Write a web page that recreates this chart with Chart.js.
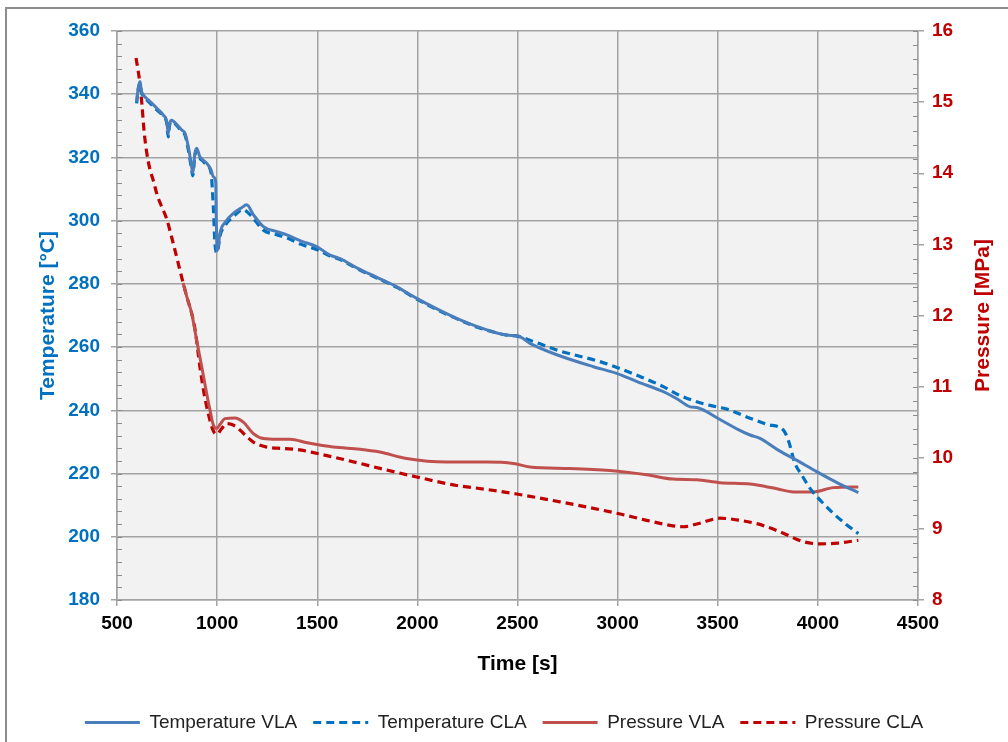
<!DOCTYPE html>
<html>
<head>
<meta charset="utf-8">
<script src="https://cdn.jsdelivr.net/npm/chart.js@4"></script>
<style>
  html, body { margin: 0; padding: 0; background: #fff; }
  #wrap { width: 1008px; height: 742px; position: relative; }
</style>
</head>
<body>
<div id="wrap"><canvas id="myChart" width="1008" height="742"></canvas></div>
<script>
// Temperature VLA (solid)
var tempVlaTime = [598, 606, 615, 622, 631, 660, 700, 731, 748, 756, 762, 773, 800, 823, 840, 856, 873, 878, 889, 898, 914, 930, 948, 970, 981, 993, 996, 1000, 1006, 1014, 1040, 1081, 1120, 1148, 1180, 1231, 1300, 1348, 1420, 1497, 1564, 1614, 1700, 1800, 1900, 1997, 2100, 2196, 2300, 2446, 2504, 2562, 2700, 2879, 2995, 3100, 3228, 3300, 3362, 3400, 3500, 3600, 3661, 3711, 3800, 3900, 3994, 4100, 4202];
var tempVla = [337.6, 342, 344, 341, 339.8, 338, 335.5, 333.4, 331.5, 327.6, 330.5, 331.8, 330.3, 328.7, 327.6, 323.4, 317, 315.2, 321.3, 322.9, 320.2, 319.2, 318.2, 316, 313.9, 312.3, 300, 290.5, 292, 296, 299.5, 302.3, 304, 305, 302, 298.1, 296.5, 295.5, 293.5, 291.8, 289.1, 288, 285, 282, 279, 275.4, 272, 269.1, 266.5, 263.8, 263.5, 261.2, 257.5, 253.8, 251.7, 249, 245.9, 243.5, 241.1, 240.8, 237.5, 234, 232.2, 231.1, 227.5, 224, 220.6, 217, 214];

// Temperature CLA (dashed)
var tempClaTime = [598, 606, 615, 622, 631, 660, 700, 731, 748, 756, 762, 773, 800, 823, 840, 856, 873, 878, 889, 898, 914, 930, 948, 970, 981, 990, 1000, 1006, 1014, 1040, 1081, 1130, 1170, 1231, 1300, 1350, 1420, 1500, 1564, 1614, 1700, 1800, 1900, 1997, 2100, 2196, 2300, 2446, 2504, 2596, 2700, 2912, 3000, 3100, 3228, 3300, 3411, 3494, 3550, 3661, 3750, 3827, 3852, 3886, 3920, 3961, 4020, 4077, 4140, 4202];
var tempCla = [337.1, 341.5, 343.5, 340.5, 339.5, 337.5, 335, 333, 331, 326.5, 330, 331.3, 330, 328.2, 327, 322.5, 316, 314.2, 320.5, 322.2, 319.8, 318.8, 317.6, 315, 304.4, 292, 289.8, 291.5, 295, 298.5, 301.3, 303.5, 301.5, 297, 295.5, 294.5, 292.5, 290.8, 288.8, 287.7, 284.8, 281.8, 278.8, 275.2, 271.8, 269, 266.3, 263.8, 263.4, 261.4, 259, 255.4, 253.5, 251, 247.5, 245, 242.4, 241.1, 240.3, 237.5, 235.5, 233.8, 230.6, 223.2, 219.5, 215.3, 211, 207.4, 204, 201];

// Pressure VLA (solid)
var presVlaTime = [830, 850, 873, 898, 925, 948, 968, 981, 998, 1015, 1039, 1089, 1131, 1181, 1231, 1300, 1364, 1450, 1580, 1713, 1813, 1946, 2146, 2346, 2479, 2562, 2762, 2962, 3145, 3278, 3395, 3511, 3661, 3711, 3800, 3877, 3977, 4077, 4202];
var presVla = [12.46, 12.25, 12.03, 11.65, 11.25, 10.9, 10.62, 10.46, 10.41, 10.47, 10.55, 10.56, 10.5, 10.34, 10.27, 10.26, 10.26, 10.21, 10.15, 10.12, 10.08, 9.99, 9.94, 9.94, 9.92, 9.87, 9.85, 9.82, 9.76, 9.7, 9.69, 9.65, 9.63, 9.61, 9.56, 9.52, 9.52, 9.58, 9.59];

// Pressure CLA (dashed)
var presClaTime = [595, 605, 615, 625, 635, 648, 665, 681, 700, 720, 748, 773, 800, 831, 850, 873, 890, 914, 935, 956, 975, 989, 1000, 1020, 1048, 1070, 1098, 1140, 1181, 1248, 1330, 1414, 1500, 1580, 1713, 1813, 1996, 2196, 2279, 2496, 2712, 2995, 3145, 3261, 3328, 3411, 3511, 3611, 3700, 3744, 3827, 3927, 4011, 4100, 4202];
var presCla = [15.62, 15.45, 15.25, 14.95, 14.6, 14.3, 14.05, 13.9, 13.7, 13.55, 13.36, 13.1, 12.8, 12.45, 12.25, 12.03, 11.8, 11.28, 10.9, 10.62, 10.42, 10.34, 10.33, 10.4, 10.48, 10.47, 10.43, 10.32, 10.22, 10.15, 10.13, 10.11, 10.06, 10.01, 9.92, 9.85, 9.73, 9.61, 9.58, 9.49, 9.38, 9.22, 9.12, 9.05, 9.03, 9.08, 9.15, 9.12, 9.07, 9.03, 8.94, 8.82, 8.79, 8.8, 8.84];

var seriesNames = ["Temperature VLA", "Temperature CLA", "Pressure VLA", "Pressure CLA"];
var seriesColors = ["#4a7ebb", "#0070c0", "#c0504d", "#c00000"];

function pts(xs, ys) {
  return xs.map((x, i) => ({ x: x, y: ys[i] }));
}

var fontFam = '"Liberation Sans", Arial, sans-serif';
var gridCol = "#a3a3a3";

// grey plot area + outer frame
const plotBg = {
  id: "plotBg",
  beforeDraw(chart) {
    const ctx = chart.ctx, a = chart.chartArea;
    ctx.save();
    ctx.fillStyle = "#f2f2f2";
    ctx.fillRect(a.left, a.top, a.right - a.left, a.bottom - a.top);
    ctx.strokeStyle = "#8c8c8c";
    ctx.lineWidth = 2;
    ctx.beginPath();
    ctx.moveTo(6, 742);
    ctx.lineTo(6, 8);
    ctx.lineTo(1008, 8);
    ctx.stroke();
    ctx.restore();
  },
};

// minor tick marks inside the plot area + right axis title (reads bottom-up)
const extras = {
  id: "extras",
  afterDraw(chart) {
    const ctx = chart.ctx, a = chart.chartArea;
    const yl = chart.scales.y, yr = chart.scales.y2;
    ctx.save();
    ctx.strokeStyle = "#8c8c8c";
    ctx.lineWidth = 1;
    ctx.beginPath();
    for (let v = yl.min; v <= yl.max + 1e-6; v += 4) {
      const p = Math.round(yl.getPixelForValue(v)) + 0.5;
      ctx.moveTo(a.left, p);
      ctx.lineTo(a.left + 5, p);
    }
    for (let v = yr.min; v <= yr.max + 1e-6; v += 0.2) {
      const p = Math.round(yr.getPixelForValue(v)) + 0.5;
      ctx.moveTo(a.right - 5, p);
      ctx.lineTo(a.right, p);
    }
    ctx.stroke();

    ctx.translate(983, (a.top + a.bottom) / 2);
    ctx.rotate(-Math.PI / 2);
    ctx.fillStyle = "#c00000";
    ctx.font = "bold 21px " + fontFam;
    ctx.textAlign = "center";
    ctx.textBaseline = "middle";
    ctx.fillText("Pressure [MPa]", 0, 0);
    ctx.restore();
  },
};

new Chart("myChart", {
  type: "line",
  data: {
    datasets: [
      { label: seriesNames[0], data: pts(tempVlaTime, tempVla), yAxisID: "y", borderColor: seriesColors[0], borderWidth: 3 },
      { label: seriesNames[1], data: pts(tempClaTime, tempCla), yAxisID: "y", borderColor: seriesColors[1], borderWidth: 3.2, borderDash: [8, 5] },
      { label: seriesNames[2], data: pts(presVlaTime, presVla), yAxisID: "y2", borderColor: seriesColors[2], borderWidth: 3 },
      { label: seriesNames[3], data: pts(presClaTime, presCla), yAxisID: "y2", borderColor: seriesColors[3], borderWidth: 3.2, borderDash: [8, 5] },
    ].map((d) => Object.assign(d, { pointRadius: 0, pointStyle: "line", cubicInterpolationMode: "monotone", fill: false, backgroundColor: d.borderColor })),
  },
  options: {
    responsive: false,
    animation: false,
    layout: { padding: { top: 31, left: 0, right: 0, bottom: 0 } },
    plugins: {
      tooltip: { enabled: false },
      legend: {
        position: "bottom",
        labels: {
          usePointStyle: true,
          pointStyleWidth: 55,
          padding: 16,
          color: "#222",
          font: { family: fontFam, size: 19 },
          generateLabels: (chart) => {
            const items = Chart.defaults.plugins.legend.labels.generateLabels(chart);
            items.forEach((it) => {
              const ds = chart.data.datasets[it.datasetIndex];
              it.lineDash = ds.borderDash || [];
              it.lineWidth = 3;
              it.strokeStyle = ds.borderColor;
            });
            return items;
          },
        },
      },
    },
    scales: {
      x: {
        type: "linear",
        min: 500,
        max: 4500,
        ticks: { stepSize: 500, color: "#000", padding: 6, maxRotation: 0, callback: (v) => String(v), font: { family: fontFam, size: 19, weight: "bold" } },
        grid: { color: gridCol, lineWidth: 1.5, tickLength: 6 },
        border: { color: gridCol, width: 1.5 },
        title: { display: true, text: "Time [s]", color: "#000", font: { family: fontFam, size: 21, weight: "bold" }, padding: { top: 0, bottom: 20 } },
        afterFit: (s) => {
          const legH = s.chart.legend ? s.chart.legend.height : 50;
          s.height = 742 - 600 - legH;
        },
      },
      y: {
        position: "left",
        min: 180,
        max: 360,
        ticks: { stepSize: 20, color: "#0070c0", padding: 11, font: { family: fontFam, size: 19, weight: "bold" } },
        grid: { color: gridCol, lineWidth: 1.5, tickLength: 6 },
        border: { color: gridCol, width: 1.5 },
        title: { display: true, text: "Temperature [°C]", color: "#0070c0", font: { family: fontFam, size: 21, weight: "bold" }, padding: { top: 36, bottom: 0 } },
        afterFit: (s) => { s.width = 117; },
      },
      y2: {
        position: "right",
        min: 8,
        max: 16,
        ticks: { stepSize: 1, color: "#c00000", padding: 8, font: { family: fontFam, size: 19, weight: "bold" } },
        grid: { drawOnChartArea: false, color: gridCol, lineWidth: 1.5, tickLength: 6 },
        border: { color: gridCol, width: 1.5 },
        afterFit: (s) => { s.width = 90; },
      },
    },
  },
  plugins: [plotBg, extras],
});
</script>
</body>
</html>
